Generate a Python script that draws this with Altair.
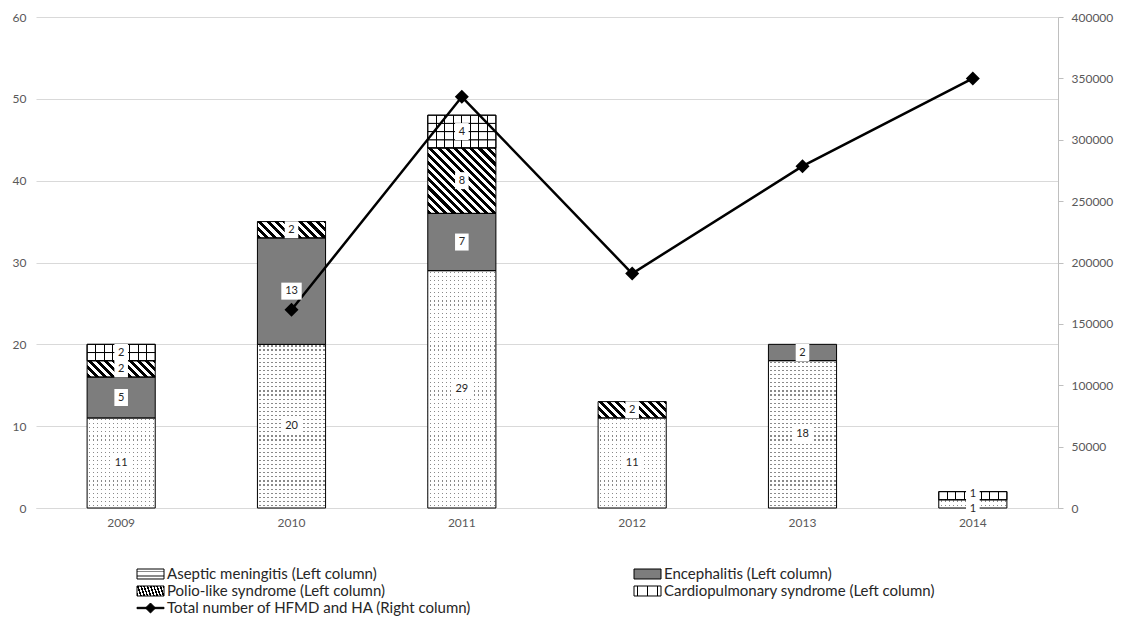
import altair as alt
import pandas as pd

# ---------------- data ----------------
years = ["2009", "2010", "2011", "2012", "2013", "2014"]
aseptic = [11, 20, 29, 11, 18, 1]
enceph = [5, 13, 7, 0, 2, 0]
polio = [2, 2, 8, 2, 0, 0]
cardio = [2, 0, 4, 0, 0, 1]
total = [None, 161500, 335000, 191000, 278500, 350000]

S_ASEPTIC = "Aseptic meningitis (Left column)"
S_ENC = "Encephalitis (Left column)"
S_POLIO = "Polio-like syndrome (Left column)"
S_CARDIO = "Cardiopulmonary syndrome (Left column)"
S_TOTAL = "Total number of HFMD and HA (Right column)"
series_names = [S_ASEPTIC, S_ENC, S_POLIO, S_CARDIO, S_TOTAL]
legend_col = [0, 1, 0, 1, 0]
legend_row = [0, 0, 1, 1, 2]
left_ticks = [0, 10, 20, 30, 40, 50, 60]
right_ticks = [0, 50000, 100000, 150000, 200000, 250000, 300000, 350000, 400000]

rows = []
for i, yr in enumerate(years):
    for k, (name, vals) in enumerate([(S_ASEPTIC, aseptic), (S_ENC, enceph),
                                      (S_POLIO, polio), (S_CARDIO, cardio)]):
        if vals[i] > 0:
            rows.append({"year": yr, "series": name, "order": k, "value": vals[i]})
bars = pd.DataFrame(rows)
line_df = pd.DataFrame({"year": years, "total": total}).dropna()
legend_df = pd.DataFrame({"series": series_names, "col": legend_col, "row": legend_row})

# ---------------- geometry used for the fill textures ----------------
PLOT_W, PLOT_H = 1022, 491
BAND_W = PLOT_W / 6.0 * 0.4
UNIT_H = PLOT_H / 60.0
OVER = 1.06
H2 = UNIT_H * OVER


def stops_expr(stops):
    return "[" + ", ".join("{offset: %.5f, color: '%s'}" % (o, c) for o, c in stops) + "]"


# diagonal stripes for polio-like syndrome
r = H2 / BAND_W
ga = (1 + r) / (1 + r * r)
gb = -ga * r
period = UNIT_H / (BAND_W + H2)
pst = []
t = 0.0
while t < 1.0:
    m = min(t + period * 0.5, 1.0)
    e = min(t + period, 1.0)
    pst += [(t, "black"), (m, "black"), (m, "white"), (e, "white")]
    t += period
polio_fill = ("{gradient: 'linear', x1: 0, y1: 1, x2: %.5f, y2: %.5f, stops: %s}"
              % (ga, 1 + gb, stops_expr(pst)))

# vertical grid lines for cardiopulmonary syndrome
cst = [(0.0, "white")]
hw = 0.6 / BAND_W
for k in range(1, 8):
    c = k / 8.0
    cst += [(c - hw, "white"), (c - hw, "black"), (c + hw, "black"), (c + hw, "white")]
cst += [(1.0, "white")]
cardio_fill = ("{gradient: 'linear', x1: 0, y1: 0, x2: 1, y2: 0, stops: %s}"
               % stops_expr(cst))

# dotted rows for aseptic meningitis
dg = "#8a8a8a"
mst = [(0.0, "white")]
for a0, a1 in [(1.5, 2.7), (5.6, 6.8)]:
    o0, o1 = a0 / H2, a1 / H2
    mst += [(o0, "white"), (o0, dg), (o1, dg), (o1, "white")]
mst += [(1.0, "white")]
mening_fill = ("{gradient: 'linear', x1: 0, y1: 0, x2: 0, y2: 1, stops: %s}"
               % stops_expr(mst))

tr = "rgba(255,255,255,0)"
ost = [{"offset": 0.0, "color": "white"}]
for k in range(17):
    g0 = (2.0 + 4 * k) / BAND_W
    g1 = (3.2 + 4 * k) / BAND_W
    ost += [{"offset": g0, "color": "white"}, {"offset": g0, "color": tr},
            {"offset": g1, "color": tr}, {"offset": g1, "color": "white"}]
ost += [{"offset": 1.0, "color": "white"}]
dots_overlay = {"gradient": "linear", "x1": 0, "y1": 0, "x2": 1, "y2": 0, "stops": ost}

color_scale = alt.Scale(domain=series_names,
                        range=[{"expr": mening_fill}, "#7d7d7d", {"expr": polio_fill},
                               {"expr": cardio_fill}, "black"])

FONT = "Lato"
GRAY = "#595959"

x_enc = alt.X("year:N", title=None,
              scale=alt.Scale(paddingInner=0.6, paddingOuter=0.3),
              axis=alt.Axis(labelAngle=0, ticks=False, domainColor="#d9d9d9",
                            labelPadding=9, labelColor=GRAY, labelFont=FONT,
                            labelFontSize=12))
left_axis = alt.Axis(values=left_ticks, grid=True, gridColor="#d9d9d9", domain=False,
                     ticks=False, labelPadding=10, labelColor=GRAY, labelFont=FONT,
                     labelFontSize=12, title=None)
left_scale = alt.Scale(domain=[0, 60], nice=False)

base = alt.Chart(bars).transform_stack(
    stack="value", groupby=["year"], as_=["y0", "y1"],
    sort=[alt.SortField("order", order="ascending")]
)

enc_layer = base.transform_filter(f"datum.series === '{S_ENC}'").mark_bar().encode(
    x=x_enc,
    y=alt.Y("y0:Q", scale=left_scale, axis=left_axis, title=None),
    y2="y1:Q",
    color=alt.Color("series:N", scale=color_scale, legend=None),
)

unit_layer = base.transform_filter(f"datum.series !== '{S_ENC}'").transform_calculate(
    units="sequence(0, datum.value)"
).transform_flatten(["units"]).transform_calculate(
    u0="datum.y0 + datum.units",
    u1=f"datum.y0 + datum.units + (datum.series === '{S_CARDIO}' ? 1 : {OVER})",
).mark_bar().encode(
    x=x_enc,
    y=alt.Y("u0:Q", scale=left_scale, axis=left_axis, title=None),
    y2="u1:Q",
    color=alt.Color("series:N", scale=color_scale, legend=None),
    stroke=alt.value("black"),
    strokeWidth=alt.condition(f"datum.series === '{S_CARDIO}'", alt.value(1), alt.value(0)),
)

dots_layer = base.transform_filter(f"datum.series === '{S_ASEPTIC}'").mark_bar(
    fill=dots_overlay
).encode(
    x=x_enc,
    y=alt.Y("y0:Q", scale=left_scale, axis=left_axis, title=None),
    y2="y1:Q",
)

outline_layer = base.mark_bar(fillOpacity=0, stroke="black", strokeWidth=1).encode(
    x=x_enc,
    y=alt.Y("y0:Q", scale=left_scale, axis=left_axis, title=None),
    y2="y1:Q",
)

bars_chart = alt.layer(enc_layer, unit_layer, dots_layer, outline_layer)

right_axis = alt.Axis(orient="right", values=right_ticks, grid=False, format="d",
                      domainColor="#bfbfbf", tickColor="#bfbfbf", tickSize=5,
                      labelPadding=8, labelColor=GRAY, labelFont=FONT,
                      labelFontSize=12, title=None)
right_scale = alt.Scale(domain=[0, 400000], nice=False)

line_layer = alt.Chart(line_df).mark_line(color="black", strokeWidth=2.5).encode(
    x=x_enc,
    y=alt.Y("total:Q", scale=right_scale, axis=right_axis, title=None),
)
point_layer = alt.Chart(line_df).mark_point(
    filled=True, size=196, opacity=1, shape="diamond", color="black"
).encode(
    x=x_enc,
    y=alt.Y("total:Q", scale=right_scale, axis=right_axis, title=None),
)
line_chart = alt.layer(line_layer, point_layer)

lab_base = base.transform_calculate(
    mid="datum.value < 2 ? (datum.y0 == 0 ? -0.1 : datum.y1 - 0.35) : (datum.y0 + datum.y1) / 2"
)
box_layer = lab_base.mark_point(filled=True, fill="white", opacity=1, strokeWidth=0,
                                size=289).encode(
    x=x_enc,
    y=alt.Y("mid:Q", scale=left_scale, axis=None),
    shape=alt.condition("datum.value >= 10", alt.value("M-1.2,-1H1.2V1H-1.2Z"),
                        alt.value("M-0.8,-1H0.8V1H-0.8Z")),
)
text_layer = lab_base.mark_text(font=FONT, fontSize=11, color="#262626").encode(
    x=x_enc,
    y=alt.Y("mid:Q", scale=left_scale, axis=None),
    text=alt.Text("value:Q"),
)
labels_chart = alt.layer(box_layer, text_layer)

main = alt.layer(bars_chart, line_chart, labels_chart).resolve_scale(y="independent")

# ---------------- legend (drawn from legend_df through its own point scales) ----------------
rect_path = "M-1,-0.37H1V0.37H-1Z"
line_diamond = "M-1,-0.05H1V0.05H-1Z M0,-0.37L0.37,0L0,0.37L-0.37,0Z"
leg_x = alt.X("col:O", axis=None,
              scale=alt.Scale(type="point", padding=0, domain=[0, 1], range=[114.5, 611.5]))
leg_y = alt.Y("row:O", axis=None,
              scale=alt.Scale(type="point", padding=0, domain=[0, 1, 2], range=[557, 591]))
leg_sym = alt.Chart(legend_df).mark_point(filled=True, opacity=1, size=729,
                                          stroke="black", strokeWidth=1).encode(
    x=leg_x, y=leg_y,
    color=alt.Color("series:N", scale=color_scale, legend=None),
    shape=alt.Shape("series:N", legend=None,
                    scale=alt.Scale(domain=series_names,
                                    range=[rect_path] * 4 + [line_diamond])),
)
leg_txt = alt.Chart(legend_df).mark_text(align="left", baseline="middle", dx=16.5,
                                         font=FONT, fontSize=15, color="#262626").encode(
    x=leg_x, y=leg_y, text="series:N",
)
legend_chart = alt.layer(leg_sym, leg_txt)

chart = alt.layer(main, legend_chart).resolve_scale(
    x="independent", y="independent"
).properties(
    width=PLOT_W, height=PLOT_H,
    padding={"left": 4, "top": 3, "right": 5, "bottom": 0},
    background="white",
).configure_view(stroke=None)

chart.save("out.html", embed_options={"renderer": "svg", "actions": False})
